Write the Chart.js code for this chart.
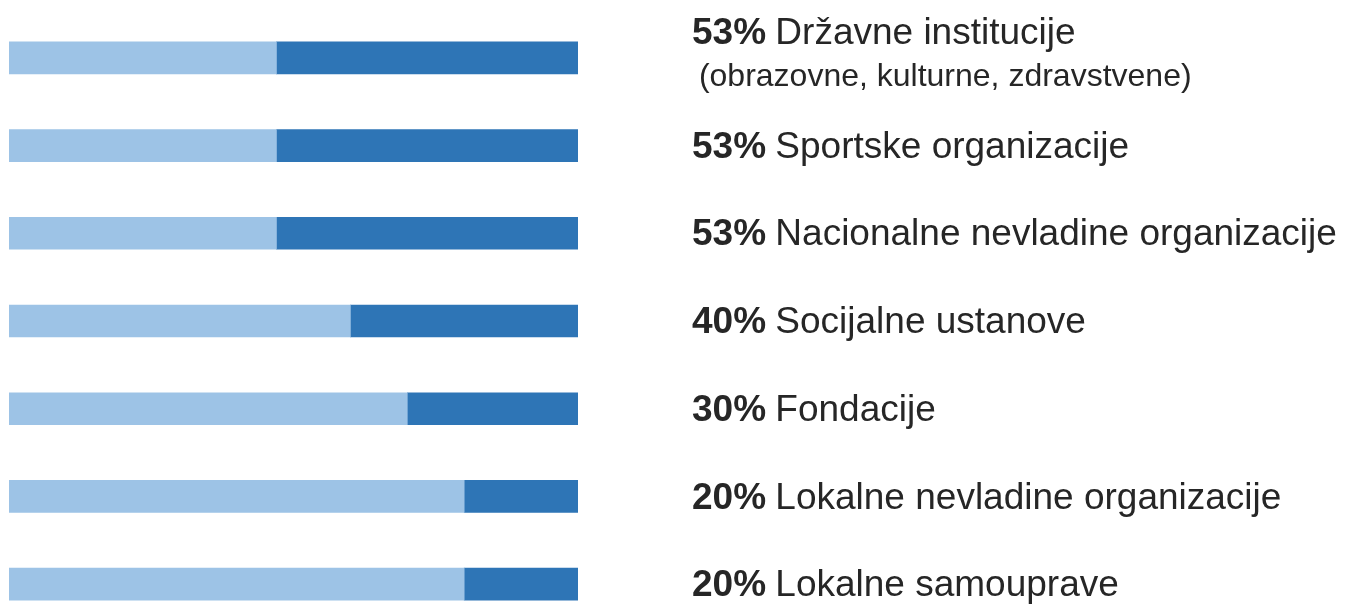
<!DOCTYPE html>
<html>
<head>
<meta charset="utf-8">
<script src="https://cdn.jsdelivr.net/npm/chart.js@4.4.1/dist/chart.umd.min.js"></script>
<style>
    html, body { margin: 0; padding: 0; background: #fff; overflow: hidden; }
    #wrap { position: relative; width: 1347px; height: 644px; }
</style>
</head>
<body>
<div id="wrap"><canvas id="chart"></canvas></div>
<script>
// Categories, top to bottom
const categories = [
    "Državne institucije",
    "Sportske organizacije",
    "Nacionalne nevladine organizacije",
    "Socijalne ustanove",
    "Fondacije",
    "Lokalne nevladine organizacije",
    "Lokalne samouprave"
];
const subLabels = ["(obrazovne, kulturne, zdravstvene)", "", "", "", "", "", ""];

// Share (%) shown in the dark segment and label
const shares = [53, 53, 53, 40, 30, 20, 20];
// Remainder shown in the light segment
const remainders = [47, 47, 47, 60, 70, 80, 80];

const LIGHT = "#9DC3E6";
const DARK = "#2E75B6";
const TEXT = "#262626";
const FONT = "'Liberation Sans', Arial, sans-serif";

// Draw "53% Label" text to the right of each bar
const rightLabels = {
    id: "rightLabels",
    afterDraw(chart) {
        const ctx = chart.ctx;
        const yScale = chart.scales.y;
        const x0 = 692;
        ctx.save();
        ctx.fillStyle = TEXT;
        ctx.textBaseline = "middle";
        ctx.textAlign = "left";
        categories.forEach((name, i) => {
            let y = yScale.getPixelForValue(i) + 2;
            if (subLabels[i]) y -= 26;
            const pct = shares[i] + "%";
            ctx.font = "bold 37px " + FONT;
            ctx.fillText(pct, x0, y);
            const w = ctx.measureText(pct + " ").width;
            ctx.font = "37px " + FONT;
            ctx.fillText(name, x0 + w - 1, y);
            if (subLabels[i]) {
                ctx.font = "32px " + FONT;
                ctx.fillText(" " + subLabels[i], x0 - 2, y + 43);
            }
        });
        ctx.restore();
    }
};

new Chart(document.getElementById("chart"), {
    type: "bar",
    data: {
        labels: categories,
        datasets: [
            {
                label: "Ostalo",
                data: remainders,
                backgroundColor: LIGHT,
                barThickness: 32
            },
            {
                label: "Udio",
                data: shares,
                backgroundColor: DARK,
                barThickness: 32
            }
        ]
    },
    options: {
        indexAxis: "y",
        responsive: true,
        maintainAspectRatio: false,
        animation: false,
        layout: {
            padding: { left: 9, right: 769, top: 14, bottom: 16 }
        },
        plugins: {
            legend: { display: false },
            tooltip: { enabled: false }
        },
        scales: {
            x: {
                stacked: true,
                min: 0,
                max: 100,
                display: false
            },
            y: {
                stacked: true,
                display: false
            }
        }
    },
    plugins: [rightLabels]
});
</script>
</body>
</html>
